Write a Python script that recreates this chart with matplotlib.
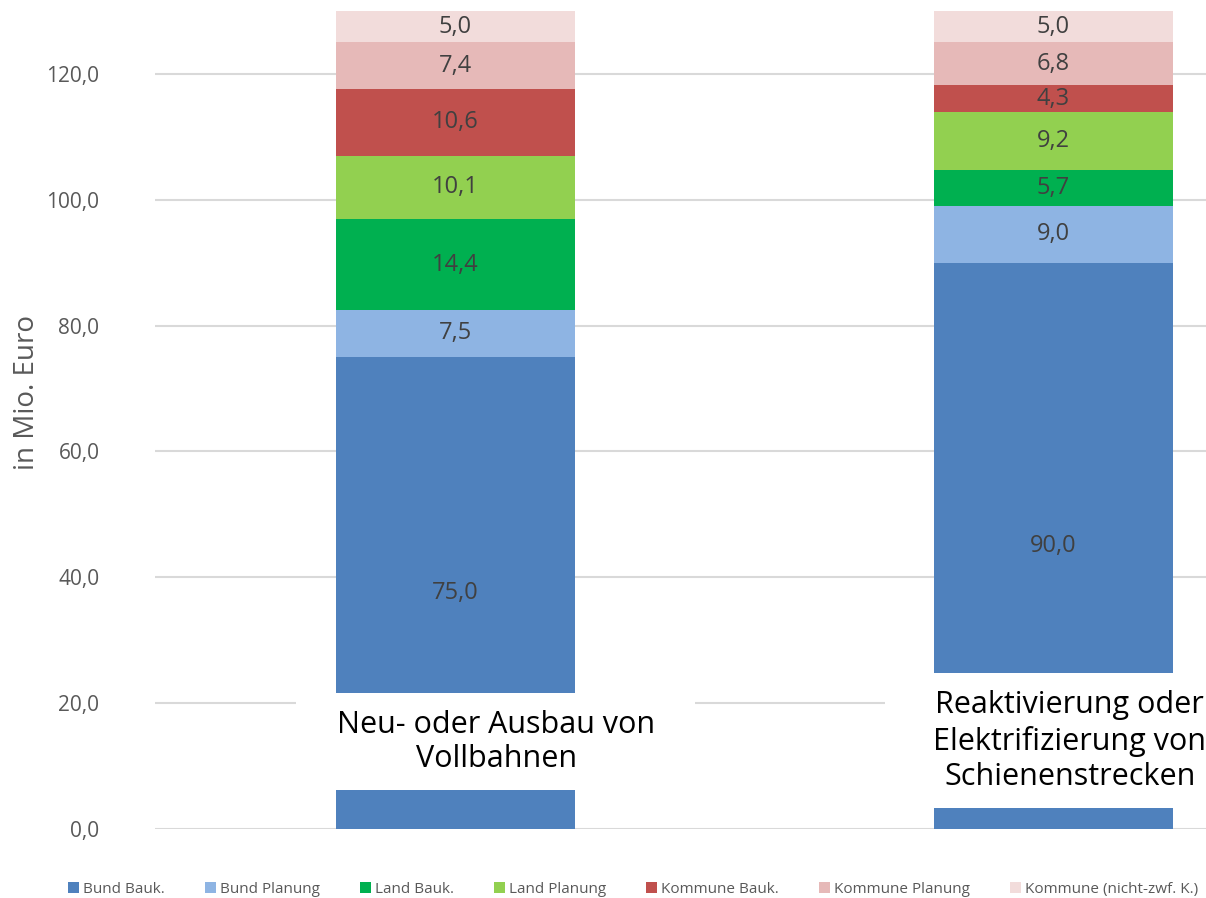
import numpy as np
import matplotlib.pyplot as plt
from matplotlib.patches import Rectangle

plt.rcParams['font.family'] = ['Open Sans', 'DejaVu Sans']

# Daten (in Mio. Euro)
kategorien = ['Neu- oder Ausbau von\nVollbahnen',
              'Reaktivierung oder\nElektrifizierung von\nSchienenstrecken']
serien = ['Bund Bauk.', 'Bund Planung', 'Land Bauk.', 'Land Planung',
          'Kommune Bauk.', 'Kommune Planung', 'Kommune (nicht-zwf. K.)']
bund_bauk = [75.0, 90.0]
bund_planung = [7.5, 9.0]
land_bauk = [14.4, 5.7]
land_planung = [10.1, 9.2]
kommune_bauk = [10.6, 4.3]
kommune_planung = [7.4, 6.8]
kommune_nzwf = [5.0, 5.0]
farben = ['#4F81BD', '#8EB4E3', '#00B050', '#92D050',
          '#C0504D', '#E6B9B8', '#F2DCDB']

werte = [bund_bauk, bund_planung, land_bauk, land_planung,
         kommune_bauk, kommune_planung, kommune_nzwf]

W, H = 1206, 898
fig = plt.figure(figsize=(W / 100, H / 100), dpi=100)
ax = fig.add_axes([155 / W, (H - 829) / H, 1051 / W, 818 / H])

x = np.arange(len(kategorien))
unten = np.zeros(len(kategorien))
for name, v, c in zip(serien, werte, farben):
    v = np.array(v)
    ax.bar(x, v, 0.4, bottom=unten, color=c, label=name, zorder=2)
    for xi, b, h in zip(x, unten, v):
        ax.text(xi, b + h / 2, f'{h:.1f}'.replace('.', ','), ha='center',
                va='center', fontsize=17, color='#404040', zorder=3)
    unten += v

ax.set_ylim(0, 130)
ax.set_xlim(-0.5025, 1.255)
ax.set_yticks(np.arange(0, 121, 20))
ax.set_yticklabels([f'{t:.1f}'.replace('.', ',') for t in np.arange(0, 121, 20)],
                   fontsize=15, color='#595959')
ax.set_xticks([])
ax.tick_params(axis='y', length=0, pad=40)
ax.grid(axis='y', color='#D9D9D9', linewidth=1.5, zorder=0)
for s in ax.spines.values():
    s.set_visible(False)
ax.set_ylabel('in Mio. Euro', fontsize=20, color='#595959')
ax.yaxis.set_label_coords(-0.108, 0.534)

# Kategorienbeschriftungen in weißen Kästen über den Balken
ax.add_patch(Rectangle((-0.267, 6.2), 0.668, 15.4, facecolor='white',
                       edgecolor='none', zorder=4))
ax.add_patch(Rectangle((0.718, 3.3), 0.6, 21.5, facecolor='white',
                       edgecolor='none', zorder=4))
ax.text(0.068, 13.8, kategorien[0], ha='center', va='center', fontsize=22,
        color='black', linespacing=1.18, zorder=5)
ax.text(1.027, 14.0, kategorien[1], ha='center', va='center', fontsize=22,
        color='black', linespacing=1.22, zorder=5)

fig.legend(loc='lower center', bbox_to_anchor=(0.525, -0.014), ncol=7,
           frameon=False, fontsize=11, labelcolor='#595959',
           handlelength=0.7, handleheight=0.7, handletextpad=0.3,
           columnspacing=2.6)

fig.savefig('out.png', dpi=100)
